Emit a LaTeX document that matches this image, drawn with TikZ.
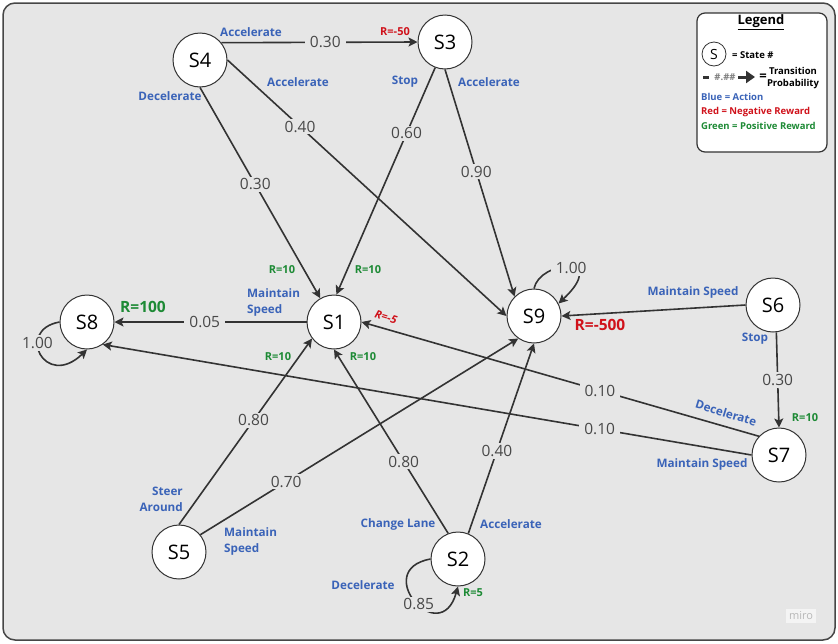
\documentclass[tikz,border=0pt]{standalone}
\usepackage{fontspec}
\setmainfont{Open Sans}
\usetikzlibrary{arrows.meta}
\definecolor{bggray}{RGB}{230,230,230}
\definecolor{framegray}{RGB}{70,70,70}
\definecolor{linegray}{RGB}{51,51,51}
\definecolor{numgray}{RGB}{72,72,72}
\definecolor{actblue}{RGB}{58,99,184}
\definecolor{negred}{RGB}{208,18,27}
\definecolor{posgreen}{RGB}{29,138,53}
\begin{document}
\begin{tikzpicture}[x=1pt,y=-1pt,
    state/.style={circle,draw=linegray,fill=white,line width=1pt,minimum size=54pt,inner sep=0pt,font=\fontsize{20}{20}\selectfont},
    prob/.style={fill=bggray,text=numgray,inner xsep=5pt,inner ysep=2pt,font=\fontsize{15.5}{15.5}\selectfont},
    act/.style={text=actblue,inner sep=0pt,font=\fontsize{11.7}{16}\selectfont\bfseries},
    rewneg/.style={text=negred,inner sep=0pt,font=\fontsize{11}{11}\selectfont\bfseries},
    rewpos/.style={text=posgreen,inner sep=0pt,font=\fontsize{11}{11}\selectfont\bfseries},
    bigrew/.style={inner sep=0pt,font=\fontsize{15.5}{15.5}\selectfont\bfseries},
    legtext/.style={inner sep=0pt,font=\fontsize{9.5}{12}\selectfont\bfseries},
    trans/.style={draw=linegray,line width=1.6pt,-{Stealth[length=9pt,width=9pt,inset=2pt]}}]
    \useasboundingbox (0,0) rectangle (838,643);
    \draw[draw=framegray,fill=bggray,line width=1.5pt,rounded corners=12pt] (3,3) rectangle (835,640);
    \node[fill=white!55!bggray,text=black!28,inner sep=3pt,font=\fontsize{11}{11}\selectfont] (miro) at (801,616) {miro};

    \node[state] (s4) at (200,60)  {S4};
    \node[state] (s3) at (445,42)  {S3};
    \node[state] (s1) at (334,322) {S1};
    \node[state] (s8) at (87,322)  {S8};
    \node[state] (s9) at (534,316) {S9};
    \node[state] (s6) at (773,305) {S6};
    \node[state] (s7) at (779,455) {S7};
    \node[state] (s5) at (179,552) {S5};
    \node[state] (s2) at (458,559) {S2};

    \draw[trans] (s4.39)    -- node[prob,pos=.53] (p43) {0.30} (s3.west);
    \draw[trans] (s4.east)  -- node[prob,pos=.26] (p49) {0.40} (s9.west);
    \draw[trans] (s4.south) -- node[prob,pos=.46] (p41) {0.30} (s1.120);
    \draw[trans] (s3.249)   -- node[prob,pos=.29] (p31) {0.60} (s1.85);
    \draw[trans] (s3.south) -- node[prob,pos=.45] (p39) {0.90} (s9.135);
    \draw[trans] (s1.west)  -- node[prob,pos=.53] (p18) {0.05} (s8.east);
    \draw[trans] (s8.west)  .. controls (15,330) and (45,390) .. node[prob,pos=.35] (p88) {1.00} (s8.south);
    \draw[trans] (s9.north) .. controls (540,260) and (610,255) .. node[prob,pos=.55] (p99) {1.00} (s9.27);
    \draw[trans] (s6.west)  -- (s9.east);
    \draw[trans] (s6.-83)   -- node[prob,pos=.5]  (p67) {0.30} (s7.north);
    \draw[trans] (s7.137)   -- node[prob,pos=.4]  (p71) {0.10} (s1.east);
    \draw[trans] (s7.west)  -- node[prob,pos=.234] (p78) {0.10} (s8.-55);
    \draw[trans] (s5.north) -- node[prob,pos=.56] (p51) {0.80} (s1.217);
    \draw[trans] (s5.39)    -- node[prob,pos=.27] (p59) {0.70} (s9.235);
    \draw[trans] (s2.111)   -- node[prob,pos=.39] (p21) {0.80} (s1.south);
    \draw[trans] (s2.68)    -- node[prob,pos=.435] (p29) {0.40} (s9.south);
    \draw[trans] (s2.west)  .. controls (370,570) and (440,650) .. node[prob,pos=.55] (p22) {0.85} (s2.south);

    \node[act] (a43) at (251,32) {Accelerate};
    \node[act] (a49) at (298,82) {Accelerate};
    \node[act] (a41) at (170,96) {Decelerate};
    \node[act] (a31) at (405,82) {Stop};
    \node[act] (a39) at (489,82) {Accelerate};
    \node[act,align=left,anchor=west] (a18) at (247,302) {Maintain\\Speed};
    \node[act] (a69) at (693,292) {Maintain Speed};
    \node[act] (a67) at (755,339) {Stop};
    \node[act,rotate=-17] (a71) at (726,413) {Decelerate};
    \node[act] (a78) at (702,464) {Maintain Speed};
    \node[act,align=right,anchor=east] (a51) at (183,499) {Steer\\Around};
    \node[act,align=left,anchor=west] (a59) at (224,541) {Maintain\\Speed};
    \node[act] (a21) at (398,524) {Change Lane};
    \node[act] (a29) at (511,524) {Accelerate};
    \node[act] (a22) at (363,585) {Decelerate};

    \node[rewneg] (r3) at (395,32) {R=-50};
    \node[rewneg,font=\fontsize{11}{11}\selectfont\bfseries\itshape,rotate=-17] (r1) at (386,317) {R=-5};
    \node[bigrew,text=negred] (r9) at (600,325) {R=-500};
    \node[bigrew,text=posgreen] (r8) at (143,307) {R=100};
    \node[rewpos] (r41) at (282,270) {R=10};
    \node[rewpos] (r31) at (368,270) {R=10};
    \node[rewpos] (r51) at (278,357) {R=10};
    \node[rewpos] (r21) at (363,357) {R=10};
    \node[rewpos] (r7)  at (805,418) {R=10};
    \node[rewpos] (r2)  at (473,593) {R=5};

    \draw[draw=linegray,fill=white,line width=1.2pt,rounded corners=8pt] (697,13) rectangle (827,152);
    \node[inner sep=0pt,font=\fontsize{13}{13}\selectfont\bfseries] (legtitle) at (761,22) {\underline{Legend}};
    \node[circle,draw=linegray,fill=white,line width=.8pt,minimum size=24pt,inner sep=0pt,font=\fontsize{14}{14}\selectfont] (legstate) at (714,54) {S};
    \node[legtext,anchor=west] (legstatetxt) at (732,55) {= State \#};
    \draw[linegray,line width=3pt] (703,77) -- (709,77);
    \node[legtext,text=numgray!70] (legnum) at (725,77) {\#.\#\#};
    \draw[linegray,line width=3pt,-{Triangle[length=9pt,width=12pt]}] (738,77) -- (755,77);
    \node[legtext,font=\fontsize{13}{13}\selectfont\bfseries] (legeq) at (763,77) {=};
    \node[legtext,align=center] (legtrans) at (793,78) {Transition\\Probability};
    \node[legtext,text=actblue,anchor=west]  (legblue)  at (701,97)  {Blue = Action};
    \node[legtext,text=negred,anchor=west]   (legred)   at (701,112) {Red = Negative Reward};
    \node[legtext,text=posgreen,anchor=west] (leggreen) at (701,126) {Green = Positive Reward};
\end{tikzpicture}
\end{document}
